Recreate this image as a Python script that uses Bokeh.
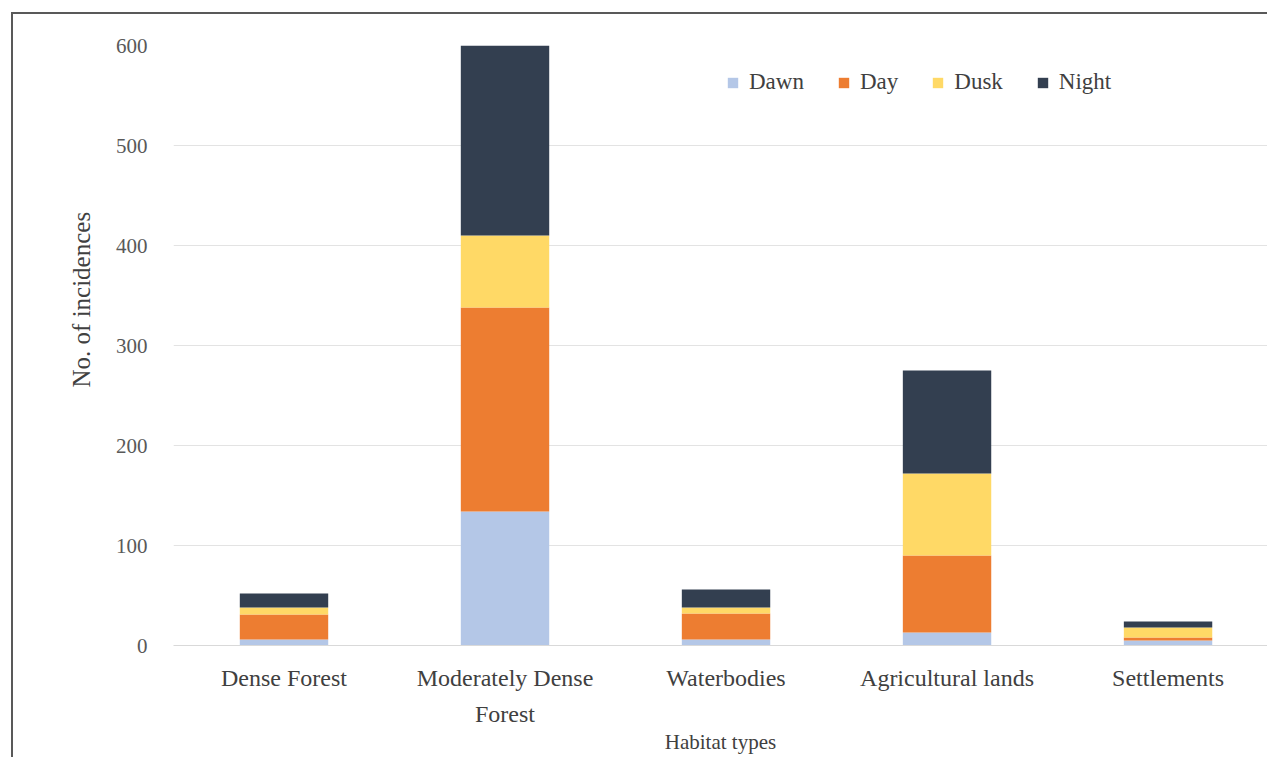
from bokeh.plotting import figure
from bokeh.models import Range1d, FixedTicker, Title, ColumnDataSource
from bokeh.embed import file_html
from bokeh.resources import INLINE

# Incidences by habitat type and time of day
habitats = ["Dense Forest", "Moderately Dense\nForest", "Waterbodies",
            "Agricultural lands", "Settlements"]
periods = ["Dawn", "Day", "Dusk", "Night"]
dawn = [6, 134, 6, 13, 5]
day = [25, 204, 26, 77, 3]
dusk = [7, 72, 6, 82, 10]
night = [14, 190, 18, 103, 6]
y_ticks = [0, 100, 200, 300, 400, 500, 600]

colors = ["#B4C7E7", "#ED7D31", "#FFD966", "#333F50"]
FONT = "Liberation Serif"
TEXT = "#404040"

positions = list(range(len(habitats)))
source = ColumnDataSource(dict(x=positions, Dawn=dawn, Day=day, Dusk=dusk, Night=night))

# thin dark frame line along the top and left edge of the page
frame_css = ("linear-gradient(#595959,#595959) 11px 12px / 100% 2px no-repeat, "
             "linear-gradient(#595959,#595959) 11px 12px / 2px 100% no-repeat, white")

p = figure(width=1267, height=757, output_backend="svg", toolbar_location=None,
           x_range=Range1d(-0.5, 4.45), y_range=Range1d(0, 600),
           min_border_left=173, min_border_right=0, min_border_top=45,
           min_border_bottom=111, styles={"background": frame_css})
p.outline_line_color = None
p.background_fill_color = "white"
p.border_fill_alpha = 0

p.vbar_stack(periods, x="x", width=0.4, source=source, color=colors,
             line_color=None, legend_label=periods)

# y axis
p.yaxis.ticker = FixedTicker(ticks=y_ticks)
p.yaxis.axis_line_color = None
p.yaxis.major_tick_line_color = None
p.yaxis.minor_tick_line_color = None
p.yaxis.major_label_text_font = FONT
p.yaxis.major_label_text_font_size = "21px"
p.yaxis.major_label_text_color = "#595959"
p.yaxis.major_label_standoff = 20

# x axis with wrapped category names
p.xaxis.ticker = FixedTicker(ticks=positions)
p.xaxis.major_label_overrides = {i: h for i, h in zip(positions, habitats)}
p.xaxis.axis_line_color = "#D9D9D9"
p.xaxis.major_tick_line_color = None
p.xaxis.minor_tick_line_color = None
p.xaxis.major_label_text_font = FONT
p.xaxis.major_label_text_font_size = "24px"
p.xaxis.major_label_text_color = TEXT
p.xaxis.major_label_text_line_height = 1.42
p.xaxis.major_label_standoff = 13
p.xaxis.axis_label = "Habitat types"
p.xaxis.axis_label_text_font = FONT
p.xaxis.axis_label_text_font_size = "21px"
p.xaxis.axis_label_text_font_style = "normal"
p.xaxis.axis_label_text_color = TEXT
p.xaxis.axis_label_standoff = 0

p.xgrid.grid_line_color = None
p.ygrid.ticker = FixedTicker(ticks=y_ticks)
p.ygrid.grid_line_color = "#E3E3E3"
p.ygrid.grid_line_width = 1

# vertical y axis title, set a little above the middle of the plot
ytitle = Title(text="No. of incidences", align="left", offset=258,
               text_font=FONT, text_font_size="25px", text_color=TEXT,
               text_font_style="normal", standoff=36)
p.add_layout(ytitle, "left")

# legend
lg = p.legend[0]
lg.orientation = "horizontal"
lg.location = (553, 550)
lg.border_line_color = None
lg.background_fill_alpha = 0
lg.label_text_font = FONT
lg.label_text_font_size = "23px"
lg.label_text_color = TEXT
lg.glyph_width = 13
lg.glyph_height = 13
lg.label_standoff = 10
lg.spacing = 33
lg.padding = 0
lg.margin = 0

open("out.html", "w").write(file_html(p, INLINE))
